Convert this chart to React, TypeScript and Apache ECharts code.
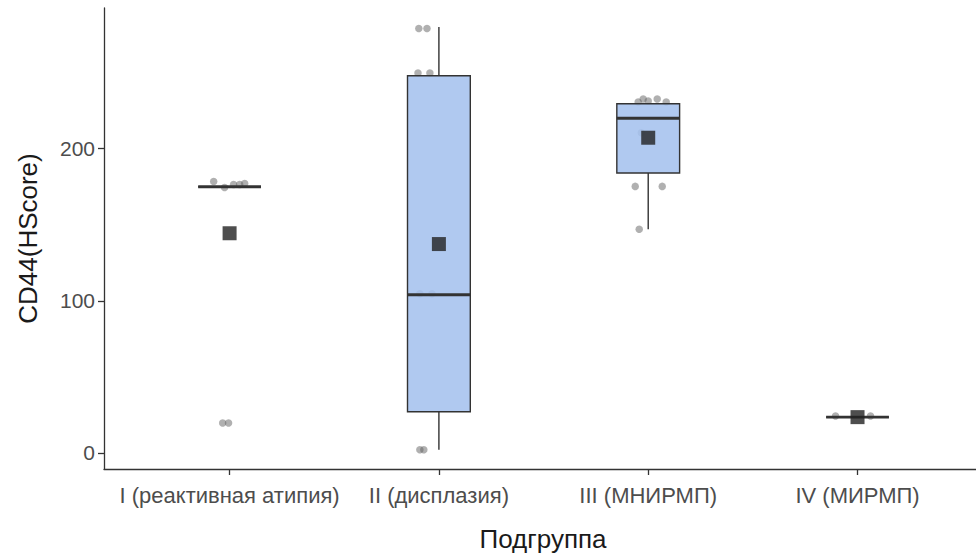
import React, { useEffect, useRef } from "react";
import * as echarts from "echarts";

const categories = ["I (реактивная атипия)", "II (дисплазия)", "III (МНИРМП)", "IV (МИРМП)"];
const yTicks = [0, 100, 200];

// [position, low, q1, median, q3, high]
const boxStats: number[][] = [
  [1, 175, 175, 175, 175, 175],
  [2, 2, 27, 104, 248, 280],
  [3, 147, 184, 220, 229.5, 229.5],
  [4, 23.5, 23.5, 23.5, 23.5, 23.5],
];

const means: number[][] = [
  [1, 144.4],
  [2, 137.3],
  [3, 207.2],
  [4, 23.5],
];

// jittered observations [x, value]
const pointsI: number[][] = [
  [0.924, 178.4], [0.976, 174.5], [1.019, 176.5], [1.048, 176.5], [1.072, 177.1],
  [0.967, 19.6], [0.995, 19.6],
];
const pointsII: number[][] = [
  [1.904, 279], [1.943, 279], [1.9, 249.7], [1.957, 249.7],
  [1.909, 104.6], [1.967, 104.6], [1.909, 2], [1.928, 2],
];
const pointsIII: number[][] = [
  [2.976, 232.7], [3.043, 232.7], [2.952, 230.7], [3.086, 230.7], [3.0, 231.4],
  [2.967, 210.5], [2.938, 175.2], [3.067, 175.2], [2.957, 147],
];
const pointsIV: number[][] = [
  [3.895, 24.2], [4.062, 24.2],
];

const FONT = "'Liberation Sans', Arial, sans-serif";

export default function App() {
  const ref = useRef<HTMLDivElement>(null);
  useEffect(() => {
    if (!ref.current) return;
    document.body.style.margin = "0";
    const chart = echarts.init(ref.current, null, { renderer: "svg" });
    const halfW = 0.15;
    const option: any = {
      animation: false,
      backgroundColor: "#ffffff",
      grid: { left: 104, top: 8, right: 0, bottom: 86 },
      xAxis: {
        type: "value",
        min: 0.4,
        max: 4.566,
        name: "Подгруппа",
        nameLocation: "middle",
        nameGap: 57,
        nameTextStyle: { fontFamily: FONT, fontSize: 26, color: "#1a1a1a", padding: [0, 0, 0, 6] },
        axisLine: { show: true, onZero: false, lineStyle: { color: "#333", width: 1.3 } },
        axisTick: { show: true, length: 6, customValues: [1, 2, 3, 4], lineStyle: { color: "#333", width: 1.3 } },
        axisLabel: {
          customValues: [1, 2, 3, 4],
          formatter: (v: number) => categories[Math.round(v) - 1] ?? "",
          fontFamily: FONT,
          fontSize: 22,
          color: "#4d4d4d",
          margin: 15,
        },
        splitLine: { show: false },
      },
      yAxis: {
        type: "value",
        min: -10.6,
        max: 292.5,
        name: "CD44(HScore)",
        nameLocation: "middle",
        nameGap: 63,
        nameRotate: 90,
        nameTextStyle: { fontFamily: FONT, fontSize: 26, color: "#1a1a1a" },
        axisLine: { show: true, onZero: false, lineStyle: { color: "#333", width: 1.3 } },
        axisTick: { show: true, length: 6, customValues: yTicks, lineStyle: { color: "#333", width: 1.3 } },
        axisLabel: {
          customValues: yTicks,
          fontFamily: FONT,
          fontSize: 21,
          color: "#4d4d4d",
          margin: 9,
        },
        splitLine: { show: false },
      },
      series: [
        {
          type: "scatter",
          z: 1,
          symbolSize: 7.5,
          itemStyle: { color: "rgba(95,95,95,0.62)" },
          data: [...pointsI, ...pointsII, ...pointsIII, ...pointsIV],
        },
        {
          type: "custom",
          z: 2,
          data: boxStats,
          encode: { x: 0, y: [1, 2, 3, 4, 5] },
          renderItem: (params: any, api: any) => {
            const x = api.value(0);
            const low = api.value(1);
            const q1 = api.value(2);
            const med = api.value(3);
            const q3 = api.value(4);
            const high = api.value(5);
            const tl = api.coord([x - halfW, q3]);
            const br = api.coord([x + halfW, q1]);
            const pHigh = api.coord([x, high]);
            const pLow = api.coord([x, low]);
            const mL = api.coord([x - halfW, med]);
            const mR = api.coord([x + halfW, med]);
            const stroke = "#333333";
            return {
              type: "group",
              children: [
                { type: "line", shape: { x1: pHigh[0], y1: pHigh[1], x2: pHigh[0], y2: tl[1] }, style: { stroke, lineWidth: 1.4 } },
                { type: "line", shape: { x1: pLow[0], y1: pLow[1], x2: pLow[0], y2: br[1] }, style: { stroke, lineWidth: 1.4 } },
                {
                  type: "rect",
                  shape: { x: tl[0], y: tl[1], width: br[0] - tl[0], height: br[1] - tl[1] },
                  style: { fill: "rgba(165,194,238,0.88)", stroke, lineWidth: 1.4 },
                },
                { type: "line", shape: { x1: mL[0], y1: mL[1], x2: mR[0], y2: mR[1] }, style: { stroke, lineWidth: 2.9 } },
              ],
            };
          },
        },
        {
          type: "scatter",
          z: 3,
          symbol: "rect",
          symbolSize: 14,
          itemStyle: { color: "#222222" },
          data: means,
        },
      ],
    };
    chart.setOption(option);
    return () => chart.dispose();
  }, []);
  return <div ref={ref} style={{ width: 976, height: 557 }} />;
}
